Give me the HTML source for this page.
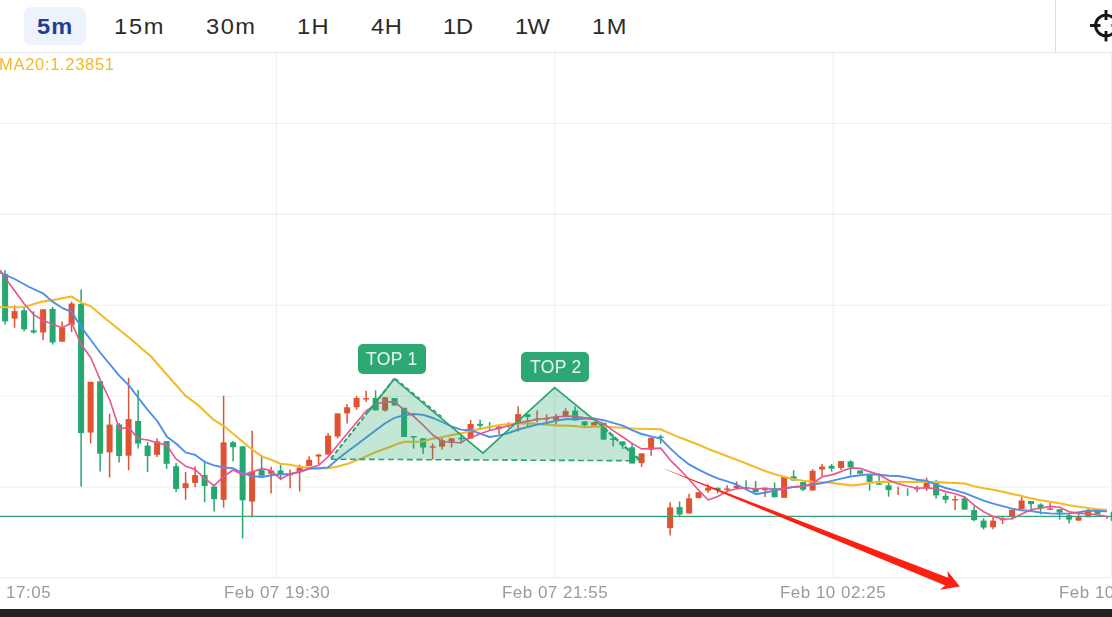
<!DOCTYPE html>
<html><head><meta charset="utf-8"><title>chart</title>
<style>
html,body{margin:0;padding:0;background:#fff;}
body{width:1112px;height:617px;overflow:hidden;position:relative;font-family:"Liberation Sans",sans-serif;}
#bar{position:absolute;left:0;top:0;width:1112px;height:52px;border-bottom:1.2px solid #e6e6e6;background:#fff;}
.pill{position:absolute;left:24px;top:7px;width:62px;height:38px;border-radius:7px;background:#eef2fc;}
.sel{position:absolute;left:37.05px;top:13.6px;font-size:21.5px;line-height:26px;font-weight:bold;color:#1f3f94;letter-spacing:1.04px;white-space:nowrap;transform:scaleX(1.1);transform-origin:0 0;}
.tab{position:absolute;top:13.6px;font-size:21.5px;line-height:26px;color:#2b2b2b;white-space:nowrap;transform:scaleX(1.1);transform-origin:0 0;}
.vdiv{position:absolute;left:1055px;top:0;width:1.2px;height:52px;background:#dcdcdc;}
.ma{will-change:transform;position:absolute;left:-1px;top:54px;font-size:16.5px;line-height:20px;color:#f1b92d;letter-spacing:0.7px;white-space:nowrap;}
.xl{will-change:transform;position:absolute;top:583px;width:200px;margin-left:-100px;text-align:center;font-size:17px;line-height:20px;color:#9a9a9a;letter-spacing:0.5px;white-space:nowrap;}
.tag{will-change:transform;position:absolute;width:67.6px;height:30px;border-radius:5px;background:#2ea873;color:#eaf6f0;font-size:17.5px;line-height:30px;text-align:center;white-space:nowrap;letter-spacing:0.3px;}
#foot{position:absolute;left:0;top:608.8px;width:1112px;height:9px;background:#222;}
svg{position:absolute;left:0;top:0;}
</style></head><body>
<svg width="1112" height="617" viewBox="0 0 1112 617">
<line x1="276.5" y1="53" x2="276.5" y2="577.5" stroke="#eeeeee" stroke-width="1.1"/>
<line x1="554.8" y1="53" x2="554.8" y2="577.5" stroke="#eeeeee" stroke-width="1.1"/>
<line x1="833.2" y1="53" x2="833.2" y2="577.5" stroke="#eeeeee" stroke-width="1.1"/>
<line x1="1111.4" y1="53" x2="1111.4" y2="577.5" stroke="#eeeeee" stroke-width="1.1"/>
<line x1="0" y1="123.5" x2="1110" y2="123.5" stroke="#eeeeee" stroke-width="1.1"/>
<line x1="0" y1="214.4" x2="1110" y2="214.4" stroke="#eeeeee" stroke-width="1.1"/>
<line x1="0" y1="305.3" x2="1110" y2="305.3" stroke="#eeeeee" stroke-width="1.1"/>
<line x1="0" y1="396.2" x2="1110" y2="396.2" stroke="#eeeeee" stroke-width="1.1"/>
<line x1="0" y1="487.0" x2="1110" y2="487.0" stroke="#eeeeee" stroke-width="1.1"/>
<line x1="0" y1="577.6" x2="1110" y2="577.6" stroke="#eeeeee" stroke-width="1.1"/>
<line x1="5.1" y1="270.2" x2="5.1" y2="324.6" stroke="#24a86e" stroke-width="1.5"/>
<rect x="2.1" y="273.9" width="6" height="47.4" fill="#24a86e"/>
<line x1="14.6" y1="305.5" x2="14.6" y2="327.8" stroke="#de5432" stroke-width="1.5"/>
<rect x="11.6" y="311.1" width="6" height="7.5" fill="#de5432"/>
<line x1="24.1" y1="307.0" x2="24.1" y2="331.5" stroke="#24a86e" stroke-width="1.5"/>
<rect x="21.1" y="310.3" width="6" height="19.0" fill="#24a86e"/>
<line x1="33.6" y1="311.3" x2="33.6" y2="333.7" stroke="#24a86e" stroke-width="1.5"/>
<rect x="30.6" y="330.3" width="6" height="2.2" fill="#24a86e"/>
<line x1="43.1" y1="309.3" x2="43.1" y2="340.2" stroke="#de5432" stroke-width="1.5"/>
<rect x="40.1" y="309.3" width="6" height="23.2" fill="#de5432"/>
<line x1="52.6" y1="307.0" x2="52.6" y2="344.6" stroke="#24a86e" stroke-width="1.5"/>
<rect x="49.6" y="308.9" width="6" height="33.5" fill="#24a86e"/>
<line x1="62.1" y1="321.6" x2="62.1" y2="341.7" stroke="#de5432" stroke-width="1.5"/>
<rect x="59.1" y="327.4" width="6" height="14.3" fill="#de5432"/>
<line x1="71.6" y1="301.6" x2="71.6" y2="332.2" stroke="#de5432" stroke-width="1.5"/>
<rect x="68.6" y="303.5" width="6" height="21.4" fill="#de5432"/>
<line x1="81.1" y1="289.6" x2="81.1" y2="486.5" stroke="#24a86e" stroke-width="1.5"/>
<rect x="78.1" y="303.8" width="6" height="129.3" fill="#24a86e"/>
<line x1="90.6" y1="381.8" x2="90.6" y2="443.5" stroke="#de5432" stroke-width="1.5"/>
<rect x="87.6" y="381.8" width="6" height="50.8" fill="#de5432"/>
<line x1="100.1" y1="381.3" x2="100.1" y2="471.5" stroke="#24a86e" stroke-width="1.5"/>
<rect x="97.1" y="381.3" width="6" height="72.4" fill="#24a86e"/>
<line x1="109.6" y1="413.7" x2="109.6" y2="477.5" stroke="#de5432" stroke-width="1.5"/>
<rect x="106.6" y="424.6" width="6" height="27.8" fill="#de5432"/>
<line x1="119.1" y1="423.0" x2="119.1" y2="462.5" stroke="#24a86e" stroke-width="1.5"/>
<rect x="116.1" y="424.4" width="6" height="31.6" fill="#24a86e"/>
<line x1="128.6" y1="377.8" x2="128.6" y2="470.2" stroke="#de5432" stroke-width="1.5"/>
<rect x="125.6" y="419.1" width="6" height="36.6" fill="#de5432"/>
<line x1="138.1" y1="389.9" x2="138.1" y2="448.4" stroke="#24a86e" stroke-width="1.5"/>
<rect x="135.1" y="421.0" width="6" height="22.5" fill="#24a86e"/>
<line x1="147.6" y1="441.9" x2="147.6" y2="471.9" stroke="#24a86e" stroke-width="1.5"/>
<rect x="144.6" y="445.6" width="6" height="10.4" fill="#24a86e"/>
<line x1="157.1" y1="438.2" x2="157.1" y2="457.0" stroke="#de5432" stroke-width="1.5"/>
<rect x="154.1" y="441.4" width="6" height="13.4" fill="#de5432"/>
<line x1="166.6" y1="441.1" x2="166.6" y2="469.0" stroke="#24a86e" stroke-width="1.5"/>
<rect x="163.6" y="441.1" width="6" height="22.7" fill="#24a86e"/>
<line x1="176.1" y1="463.0" x2="176.1" y2="492.1" stroke="#24a86e" stroke-width="1.5"/>
<rect x="173.1" y="466.2" width="6" height="22.7" fill="#24a86e"/>
<line x1="185.6" y1="471.9" x2="185.6" y2="499.7" stroke="#de5432" stroke-width="1.5"/>
<rect x="182.6" y="483.2" width="6" height="4.9" fill="#de5432"/>
<line x1="195.1" y1="466.2" x2="195.1" y2="487.3" stroke="#de5432" stroke-width="1.5"/>
<rect x="192.1" y="475.1" width="6" height="7.8" fill="#de5432"/>
<line x1="204.6" y1="461.3" x2="204.6" y2="502.3" stroke="#24a86e" stroke-width="1.5"/>
<rect x="201.6" y="475.1" width="6" height="10.9" fill="#24a86e"/>
<line x1="214.1" y1="484.8" x2="214.1" y2="511.6" stroke="#24a86e" stroke-width="1.5"/>
<rect x="211.1" y="486.5" width="6" height="12.6" fill="#24a86e"/>
<line x1="223.6" y1="395.7" x2="223.6" y2="507.7" stroke="#de5432" stroke-width="1.5"/>
<rect x="220.6" y="442.4" width="6" height="57.4" fill="#de5432"/>
<line x1="233.1" y1="441.0" x2="233.1" y2="461.6" stroke="#24a86e" stroke-width="1.5"/>
<rect x="230.1" y="442.2" width="6" height="5.0" fill="#24a86e"/>
<line x1="242.6" y1="446.3" x2="242.6" y2="538.5" stroke="#24a86e" stroke-width="1.5"/>
<rect x="239.6" y="446.3" width="6" height="54.0" fill="#24a86e"/>
<line x1="252.1" y1="430.8" x2="252.1" y2="517.5" stroke="#de5432" stroke-width="1.5"/>
<rect x="249.1" y="471.6" width="6" height="30.0" fill="#de5432"/>
<line x1="261.6" y1="455.2" x2="261.6" y2="475.7" stroke="#24a86e" stroke-width="1.5"/>
<rect x="258.6" y="470.0" width="6" height="5.7" fill="#24a86e"/>
<line x1="271.1" y1="466.7" x2="271.1" y2="493.5" stroke="#de5432" stroke-width="1.5"/>
<rect x="268.1" y="470.5" width="6" height="3.2" fill="#de5432"/>
<line x1="280.6" y1="464.6" x2="280.6" y2="480.2" stroke="#24a86e" stroke-width="1.5"/>
<rect x="277.6" y="470.5" width="6" height="3.9" fill="#24a86e"/>
<line x1="290.1" y1="469.5" x2="290.1" y2="488.3" stroke="#de5432" stroke-width="1.5"/>
<rect x="287.1" y="473.2" width="6" height="2.1" fill="#de5432"/>
<line x1="299.6" y1="464.6" x2="299.6" y2="491.5" stroke="#de5432" stroke-width="1.5"/>
<rect x="296.6" y="467.6" width="6" height="4.0" fill="#de5432"/>
<line x1="309.1" y1="456.2" x2="309.1" y2="465.9" stroke="#de5432" stroke-width="1.5"/>
<rect x="306.1" y="459.8" width="6" height="6.1" fill="#de5432"/>
<line x1="318.6" y1="453.8" x2="318.6" y2="464.3" stroke="#de5432" stroke-width="1.5"/>
<rect x="315.6" y="454.6" width="6" height="1.9" fill="#de5432"/>
<line x1="328.1" y1="432.9" x2="328.1" y2="454.6" stroke="#de5432" stroke-width="1.5"/>
<rect x="325.1" y="435.6" width="6" height="19.0" fill="#de5432"/>
<line x1="337.6" y1="413.4" x2="337.6" y2="438.4" stroke="#de5432" stroke-width="1.5"/>
<rect x="334.6" y="413.4" width="6" height="23.1" fill="#de5432"/>
<line x1="347.1" y1="404.0" x2="347.1" y2="423.5" stroke="#de5432" stroke-width="1.5"/>
<rect x="344.1" y="407.3" width="6" height="6.1" fill="#de5432"/>
<line x1="356.6" y1="395.9" x2="356.6" y2="409.7" stroke="#de5432" stroke-width="1.5"/>
<rect x="353.6" y="397.9" width="6" height="9.4" fill="#de5432"/>
<line x1="366.1" y1="390.7" x2="366.1" y2="402.1" stroke="#de5432" stroke-width="1.5"/>
<rect x="363.1" y="398.1" width="6" height="1.4" fill="#de5432"/>
<line x1="375.6" y1="390.3" x2="375.6" y2="410.4" stroke="#24a86e" stroke-width="1.5"/>
<rect x="372.6" y="398.0" width="6" height="12.4" fill="#24a86e"/>
<line x1="385.1" y1="397.3" x2="385.1" y2="411.8" stroke="#de5432" stroke-width="1.5"/>
<rect x="382.1" y="397.3" width="6" height="13.2" fill="#de5432"/>
<line x1="394.6" y1="398.0" x2="394.6" y2="405.5" stroke="#24a86e" stroke-width="1.5"/>
<rect x="391.6" y="398.0" width="6" height="7.5" fill="#24a86e"/>
<line x1="404.1" y1="407.8" x2="404.1" y2="437.0" stroke="#24a86e" stroke-width="1.5"/>
<rect x="401.1" y="407.8" width="6" height="29.2" fill="#24a86e"/>
<line x1="413.6" y1="436.2" x2="413.6" y2="448.7" stroke="#24a86e" stroke-width="1.5"/>
<rect x="410.6" y="436.0" width="6" height="1.4" fill="#24a86e"/>
<line x1="423.1" y1="438.3" x2="423.1" y2="454.0" stroke="#24a86e" stroke-width="1.5"/>
<rect x="420.1" y="438.3" width="6" height="9.2" fill="#24a86e"/>
<line x1="432.6" y1="443.5" x2="432.6" y2="459.4" stroke="#de5432" stroke-width="1.5"/>
<rect x="429.6" y="446.3" width="6" height="1.4" fill="#de5432"/>
<line x1="442.1" y1="436.7" x2="442.1" y2="449.6" stroke="#de5432" stroke-width="1.5"/>
<rect x="439.1" y="440.2" width="6" height="6.5" fill="#de5432"/>
<line x1="451.6" y1="438.3" x2="451.6" y2="447.5" stroke="#de5432" stroke-width="1.5"/>
<rect x="448.6" y="438.3" width="6" height="4.4" fill="#de5432"/>
<line x1="461.1" y1="435.4" x2="461.1" y2="443.5" stroke="#24a86e" stroke-width="1.5"/>
<rect x="458.1" y="437.9" width="6" height="1.4" fill="#24a86e"/>
<line x1="470.6" y1="420.0" x2="470.6" y2="438.6" stroke="#de5432" stroke-width="1.5"/>
<rect x="467.6" y="424.0" width="6" height="14.6" fill="#de5432"/>
<line x1="480.1" y1="419.7" x2="480.1" y2="428.6" stroke="#24a86e" stroke-width="1.5"/>
<rect x="477.1" y="423.8" width="6" height="2.0" fill="#24a86e"/>
<line x1="489.6" y1="422.1" x2="489.6" y2="430.5" stroke="#24a86e" stroke-width="1.5"/>
<rect x="486.6" y="426.3" width="6" height="1.4" fill="#24a86e"/>
<line x1="499.1" y1="426.5" x2="499.1" y2="434.6" stroke="#de5432" stroke-width="1.5"/>
<rect x="496.1" y="426.5" width="6" height="2.4" fill="#de5432"/>
<line x1="508.6" y1="422.1" x2="508.6" y2="428.1" stroke="#de5432" stroke-width="1.5"/>
<rect x="505.6" y="424.1" width="6" height="1.4" fill="#de5432"/>
<line x1="518.1" y1="406.2" x2="518.1" y2="431.4" stroke="#de5432" stroke-width="1.5"/>
<rect x="515.1" y="414.1" width="6" height="7.7" fill="#de5432"/>
<line x1="527.6" y1="414.2" x2="527.6" y2="426.6" stroke="#24a86e" stroke-width="1.5"/>
<rect x="524.6" y="414.2" width="6" height="2.7" fill="#24a86e"/>
<line x1="537.1" y1="410.6" x2="537.1" y2="422.3" stroke="#de5432" stroke-width="1.5"/>
<rect x="534.1" y="418.5" width="6" height="1.4" fill="#de5432"/>
<line x1="546.6" y1="414.3" x2="546.6" y2="422.4" stroke="#de5432" stroke-width="1.5"/>
<rect x="543.6" y="418.1" width="6" height="1.4" fill="#de5432"/>
<line x1="556.1" y1="414.0" x2="556.1" y2="424.6" stroke="#de5432" stroke-width="1.5"/>
<rect x="553.1" y="416.7" width="6" height="3.3" fill="#de5432"/>
<line x1="565.6" y1="408.2" x2="565.6" y2="416.3" stroke="#de5432" stroke-width="1.5"/>
<rect x="562.6" y="411.1" width="6" height="5.2" fill="#de5432"/>
<line x1="575.1" y1="406.6" x2="575.1" y2="420.4" stroke="#24a86e" stroke-width="1.5"/>
<rect x="572.1" y="410.6" width="6" height="9.8" fill="#24a86e"/>
<line x1="584.6" y1="421.4" x2="584.6" y2="426.8" stroke="#24a86e" stroke-width="1.5"/>
<rect x="581.6" y="421.4" width="6" height="3.9" fill="#24a86e"/>
<line x1="594.1" y1="422.1" x2="594.1" y2="425.5" stroke="#de5432" stroke-width="1.5"/>
<rect x="591.1" y="422.1" width="6" height="3.4" fill="#de5432"/>
<line x1="603.6" y1="422.8" x2="603.6" y2="439.6" stroke="#24a86e" stroke-width="1.5"/>
<rect x="600.6" y="422.8" width="6" height="16.8" fill="#24a86e"/>
<line x1="613.1" y1="435.0" x2="613.1" y2="446.5" stroke="#24a86e" stroke-width="1.5"/>
<rect x="610.1" y="438.5" width="6" height="1.4" fill="#24a86e"/>
<line x1="622.6" y1="441.5" x2="622.6" y2="448.9" stroke="#24a86e" stroke-width="1.5"/>
<rect x="619.6" y="441.5" width="6" height="3.8" fill="#24a86e"/>
<line x1="632.1" y1="443.7" x2="632.1" y2="463.5" stroke="#24a86e" stroke-width="1.5"/>
<rect x="629.1" y="447.3" width="6" height="16.2" fill="#24a86e"/>
<line x1="641.6" y1="453.4" x2="641.6" y2="467.0" stroke="#de5432" stroke-width="1.5"/>
<rect x="638.6" y="453.4" width="6" height="9.8" fill="#de5432"/>
<line x1="651.1" y1="437.7" x2="651.1" y2="455.7" stroke="#de5432" stroke-width="1.5"/>
<rect x="648.1" y="437.7" width="6" height="12.0" fill="#de5432"/>
<line x1="660.6" y1="434.7" x2="660.6" y2="443.8" stroke="#24a86e" stroke-width="1.5"/>
<rect x="657.6" y="436.5" width="6" height="1.4" fill="#24a86e"/>
<line x1="670.1" y1="502.2" x2="670.1" y2="535.6" stroke="#de5432" stroke-width="1.5"/>
<rect x="667.1" y="507.4" width="6" height="20.7" fill="#de5432"/>
<line x1="679.6" y1="501.5" x2="679.6" y2="517.3" stroke="#24a86e" stroke-width="1.5"/>
<rect x="676.6" y="507.1" width="6" height="7.4" fill="#24a86e"/>
<line x1="689.1" y1="493.7" x2="689.1" y2="513.5" stroke="#de5432" stroke-width="1.5"/>
<rect x="686.1" y="498.3" width="6" height="15.2" fill="#de5432"/>
<line x1="698.6" y1="492.2" x2="698.6" y2="498.1" stroke="#de5432" stroke-width="1.5"/>
<rect x="695.6" y="492.2" width="6" height="5.9" fill="#de5432"/>
<line x1="708.1" y1="484.3" x2="708.1" y2="493.0" stroke="#de5432" stroke-width="1.5"/>
<rect x="705.1" y="487.7" width="6" height="2.9" fill="#de5432"/>
<line x1="717.6" y1="487.7" x2="717.6" y2="493.4" stroke="#24a86e" stroke-width="1.5"/>
<rect x="714.6" y="487.7" width="6" height="2.5" fill="#24a86e"/>
<line x1="727.1" y1="485.3" x2="727.1" y2="492.2" stroke="#de5432" stroke-width="1.5"/>
<rect x="724.1" y="488.4" width="6" height="1.4" fill="#de5432"/>
<line x1="736.6" y1="481.4" x2="736.6" y2="488.0" stroke="#de5432" stroke-width="1.5"/>
<rect x="733.6" y="485.7" width="6" height="2.3" fill="#de5432"/>
<line x1="746.1" y1="480.3" x2="746.1" y2="489.0" stroke="#24a86e" stroke-width="1.5"/>
<rect x="743.1" y="487.0" width="6" height="2.0" fill="#24a86e"/>
<line x1="755.6" y1="481.0" x2="755.6" y2="492.2" stroke="#24a86e" stroke-width="1.5"/>
<rect x="752.6" y="489.0" width="6" height="3.2" fill="#24a86e"/>
<line x1="765.1" y1="488.1" x2="765.1" y2="497.0" stroke="#de5432" stroke-width="1.5"/>
<rect x="762.1" y="488.1" width="6" height="2.1" fill="#de5432"/>
<line x1="774.6" y1="482.4" x2="774.6" y2="497.3" stroke="#24a86e" stroke-width="1.5"/>
<rect x="771.6" y="488.1" width="6" height="9.2" fill="#24a86e"/>
<line x1="784.1" y1="476.7" x2="784.1" y2="497.8" stroke="#de5432" stroke-width="1.5"/>
<rect x="781.1" y="476.7" width="6" height="21.1" fill="#de5432"/>
<line x1="793.6" y1="470.3" x2="793.6" y2="480.5" stroke="#24a86e" stroke-width="1.5"/>
<rect x="790.6" y="476.3" width="6" height="4.2" fill="#24a86e"/>
<line x1="803.1" y1="482.1" x2="803.1" y2="491.3" stroke="#24a86e" stroke-width="1.5"/>
<rect x="800.1" y="482.1" width="6" height="7.6" fill="#24a86e"/>
<line x1="812.6" y1="469.1" x2="812.6" y2="490.5" stroke="#de5432" stroke-width="1.5"/>
<rect x="809.6" y="470.8" width="6" height="19.7" fill="#de5432"/>
<line x1="822.1" y1="464.1" x2="822.1" y2="476.2" stroke="#de5432" stroke-width="1.5"/>
<rect x="819.1" y="466.6" width="6" height="2.9" fill="#de5432"/>
<line x1="831.6" y1="464.0" x2="831.6" y2="471.6" stroke="#24a86e" stroke-width="1.5"/>
<rect x="828.6" y="465.8" width="6" height="2.8" fill="#24a86e"/>
<line x1="841.1" y1="461.1" x2="841.1" y2="470.0" stroke="#de5432" stroke-width="1.5"/>
<rect x="838.1" y="461.1" width="6" height="6.8" fill="#de5432"/>
<line x1="850.6" y1="460.3" x2="850.6" y2="475.3" stroke="#24a86e" stroke-width="1.5"/>
<rect x="847.6" y="461.4" width="6" height="5.8" fill="#24a86e"/>
<line x1="860.1" y1="470.5" x2="860.1" y2="473.7" stroke="#24a86e" stroke-width="1.5"/>
<rect x="857.1" y="470.5" width="6" height="3.2" fill="#24a86e"/>
<line x1="869.6" y1="474.8" x2="869.6" y2="490.6" stroke="#24a86e" stroke-width="1.5"/>
<rect x="866.6" y="474.8" width="6" height="7.0" fill="#24a86e"/>
<line x1="879.1" y1="473.2" x2="879.1" y2="484.6" stroke="#24a86e" stroke-width="1.5"/>
<rect x="876.1" y="483.4" width="6" height="1.4" fill="#24a86e"/>
<line x1="888.6" y1="482.5" x2="888.6" y2="496.7" stroke="#24a86e" stroke-width="1.5"/>
<rect x="885.6" y="485.4" width="6" height="4.8" fill="#24a86e"/>
<line x1="898.1" y1="486.7" x2="898.1" y2="495.1" stroke="#de5432" stroke-width="1.5"/>
<line x1="907.6" y1="488.3" x2="907.6" y2="495.9" stroke="#24a86e" stroke-width="1.5"/>
<line x1="917.1" y1="485.7" x2="917.1" y2="491.9" stroke="#de5432" stroke-width="1.5"/>
<rect x="914.1" y="487.8" width="6" height="1.6" fill="#de5432"/>
<line x1="926.6" y1="477.6" x2="926.6" y2="491.1" stroke="#de5432" stroke-width="1.5"/>
<rect x="923.6" y="482.5" width="6" height="5.8" fill="#de5432"/>
<line x1="936.1" y1="479.7" x2="936.1" y2="498.7" stroke="#24a86e" stroke-width="1.5"/>
<rect x="933.1" y="482.5" width="6" height="12.9" fill="#24a86e"/>
<line x1="945.6" y1="493.3" x2="945.6" y2="503.3" stroke="#24a86e" stroke-width="1.5"/>
<rect x="942.6" y="495.9" width="6" height="3.9" fill="#24a86e"/>
<line x1="955.1" y1="495.6" x2="955.1" y2="509.9" stroke="#de5432" stroke-width="1.5"/>
<rect x="952.1" y="499.1" width="6" height="1.4" fill="#de5432"/>
<line x1="964.6" y1="496.1" x2="964.6" y2="509.6" stroke="#24a86e" stroke-width="1.5"/>
<rect x="961.6" y="498.4" width="6" height="11.2" fill="#24a86e"/>
<line x1="974.1" y1="506.2" x2="974.1" y2="521.2" stroke="#24a86e" stroke-width="1.5"/>
<rect x="971.1" y="510.1" width="6" height="10.0" fill="#24a86e"/>
<line x1="983.6" y1="518.3" x2="983.6" y2="529.4" stroke="#24a86e" stroke-width="1.5"/>
<rect x="980.6" y="520.6" width="6" height="7.0" fill="#24a86e"/>
<line x1="993.1" y1="516.9" x2="993.1" y2="529.3" stroke="#de5432" stroke-width="1.5"/>
<rect x="990.1" y="520.6" width="6" height="6.7" fill="#de5432"/>
<line x1="1002.6" y1="516.9" x2="1002.6" y2="524.2" stroke="#de5432" stroke-width="1.5"/>
<rect x="999.6" y="518.9" width="6" height="1.4" fill="#de5432"/>
<line x1="1012.1" y1="509.8" x2="1012.1" y2="519.6" stroke="#de5432" stroke-width="1.5"/>
<rect x="1009.1" y="509.8" width="6" height="7.1" fill="#de5432"/>
<line x1="1021.6" y1="497.1" x2="1021.6" y2="509.2" stroke="#de5432" stroke-width="1.5"/>
<rect x="1018.6" y="500.5" width="6" height="8.7" fill="#de5432"/>
<line x1="1031.1" y1="501.0" x2="1031.1" y2="509.8" stroke="#24a86e" stroke-width="1.5"/>
<rect x="1028.1" y="501.0" width="6" height="3.1" fill="#24a86e"/>
<line x1="1040.6" y1="503.3" x2="1040.6" y2="514.4" stroke="#24a86e" stroke-width="1.5"/>
<rect x="1037.6" y="504.5" width="6" height="3.4" fill="#24a86e"/>
<line x1="1050.1" y1="503.0" x2="1050.1" y2="509.7" stroke="#de5432" stroke-width="1.5"/>
<rect x="1047.1" y="508.5" width="6" height="1.4" fill="#de5432"/>
<line x1="1059.6" y1="509.2" x2="1059.6" y2="519.6" stroke="#24a86e" stroke-width="1.5"/>
<rect x="1056.6" y="509.2" width="6" height="3.4" fill="#24a86e"/>
<line x1="1069.1" y1="513.4" x2="1069.1" y2="523.4" stroke="#24a86e" stroke-width="1.5"/>
<rect x="1066.1" y="515.4" width="6" height="4.2" fill="#24a86e"/>
<line x1="1078.6" y1="514.1" x2="1078.6" y2="520.6" stroke="#de5432" stroke-width="1.5"/>
<rect x="1075.6" y="517.2" width="6" height="3.4" fill="#de5432"/>
<line x1="1088.1" y1="508.3" x2="1088.1" y2="517.2" stroke="#de5432" stroke-width="1.5"/>
<rect x="1085.1" y="510.7" width="6" height="6.5" fill="#de5432"/>
<line x1="1097.6" y1="509.8" x2="1097.6" y2="513.8" stroke="#24a86e" stroke-width="1.5"/>
<rect x="1094.6" y="509.8" width="6" height="4.0" fill="#24a86e"/>
<rect x="1106.3" y="516.6" width="1.7" height="2.2" fill="#e2557a"/>
<rect x="1110.7" y="511.8" width="3" height="9.2" rx="1" fill="#24a86e"/>
<line x1="0" y1="516.3" x2="1112" y2="516.3" stroke="#35a478" stroke-width="1.3"/>
<polyline points="0,307.3 24,307 42.3,301.6 52.5,300.1 71.5,296.5 81.2,302.7 90.4,306 105,318.3 119.6,330 131.3,339.5 142.2,349 150.8,356.2 167,374.8 184.8,395.1 197.8,404.8 214,420.2 223.7,426 233.1,433.8 240.3,439.7 252,449.5 261.8,456.4 271.2,459.7 280.6,463.7 290,464.8 299.6,466.8 309,467.6 318.6,468.4 328,468.2 337.5,466.6 348,463.8 361,458.6 374,452.8 387,448 400,442.9 404.2,441.9 423.1,441.5 432.7,438.6 442.1,437 451.5,435.1 461,433.4 470.6,430.8 480.2,428.9 489.7,427 499.3,425 508.7,424 518.1,423.4 527.8,423.4 537.2,423.9 546.6,424.6 556.2,425.4 575,426 584.6,427.2 594,426.8 603.6,426.6 613.1,427.3 622.7,427.8 632.1,428.5 641.5,428.8 651.1,429 660.6,429.2 670,433.4 679.6,437.6 689,441.1 698.6,444.8 708.2,448.9 717.6,452.5 727.2,456.2 736.6,459.7 746.2,463.5 755.7,467.2 765.2,471.1 774.6,474.3 784.2,476.7 793.6,479.2 803.2,480.8 812.6,481.8 822.2,482.3 831.7,482.9 850.7,485.4 860.2,484.6 869.6,483 879.2,481.8 898.2,482.1 917.1,481.8 936.1,482.1 955.2,483 964.8,483.6 974.2,486.2 983.7,488.2 993.2,489.7 1002.6,491.7 1012.2,494 1021.7,495.9 1031.3,498.4 1040.7,500.2 1050.1,501.8 1059.6,503.3 1069.2,505.2 1078.6,506.7 1088,508 1097.6,509.2 1107,509.8" fill="none" stroke="#f3ba2c" stroke-width="2.1" stroke-linejoin="round"/>
<polyline points="0,272.4 14.6,279 29.2,287 43,293.3 52.5,301.6 62,307.8 71.5,311.8 81.2,327.1 90.8,340 100.5,353 119.2,375.7 128.9,385.4 138.1,397.5 147.5,409.7 157.2,421 167,436.7 176,443.5 185.6,452.4 195,454.8 204.6,461.8 214,465.4 223.7,467.5 233.1,468.3 242.7,473.2 252,476 261.8,477 271.2,475.3 280.6,474.4 290,474 299.6,472.1 309,468.8 318.6,468.3 328,467.4 337.6,459.3 347.1,451.8 356.6,444.7 366.2,437.6 375.8,430.2 385.2,423.2 394.6,417.8 404.2,415.1 413.7,414 423.3,414.9 432.9,418 442.3,422 451.5,426.5 461,429.6 470.6,430.2 480.2,433.6 489.7,437 499.3,435.4 508.7,433 518.1,429.5 527.8,427 537.2,424.6 546.6,423 556.2,420.6 565.5,419.2 575,419.2 584.6,418.5 594,418.4 603.6,420.2 613.1,422.9 622.7,425.7 632.1,430.2 641.5,434 651.1,436.4 660.6,438.7 670,448.1 679.6,457.1 689,464.4 698.6,469.7 708.2,474.4 717.6,478.4 727.2,481.4 736.6,484.5 746.2,489.5 755.7,494.2 765.2,492.5 774.6,490.5 784.2,488.6 793.6,487 803.2,486 812.6,484.8 822.2,483.1 831.7,480.8 841.1,478.6 850.7,476.5 860.2,475.3 869.6,474.4 879.2,474.8 888.8,475.7 898.2,476 907.6,477.6 917.1,479.7 926.5,480.8 936.1,484.6 945.7,488 955.2,490.4 964.8,493.2 974.2,496.9 983.7,500.6 993.2,503.6 1002.6,506.1 1012.2,508.7 1021.7,510.3 1031.3,511 1040.7,512.6 1050.1,513.4 1059.6,513.8 1069.2,513.4 1078.6,512.3 1088,510.7 1097.6,510.7 1107,511.4" fill="none" stroke="#4d8fea" stroke-width="1.9" stroke-linejoin="round"/>
<polyline points="0,270.2 5.1,277.6 14.6,290.8 24.1,303.8 33.8,314.6 43,320.5 52.8,324.2 62,327.8 71.8,323 81.2,344.6 90.8,357.8 100.5,380.5 109.8,400 119.2,428.8 128.7,427.4 138.1,438.7 147.8,440 157.2,442.7 166.6,445.1 176,458.9 185.6,466.2 195,469.4 204.6,478.3 214,485.6 223.7,476.6 233,470 242.7,474.8 252,472.1 261.8,468.4 271.2,470.8 280.6,478.9 290,474 299.6,471.6 309,468.2 318.6,465.3 328,456.9 337.6,445.3 347.1,433.8 356.6,422.2 366.2,411 375.8,404.2 385.2,401.7 394.6,401.9 404.2,409.9 413.7,416.3 423.3,425.3 432.9,435 442.1,441.5 451.5,442.2 461,442.7 465.9,439.4 470.6,437.8 480.2,433.8 489.7,430.5 499.3,428.1 508.7,425.7 518.1,423 527.8,421.1 537.2,419.5 546.6,418.3 556.2,416.9 565.5,416.3 575,416.3 584.6,417.9 594,419.4 603.6,423.7 613.1,430.6 622.7,437 632.1,443.4 641.5,448.9 651,448.6 660.6,448.1 670,459.8 679.6,469.3 689,479.3 698.6,490.2 708.2,500 717.6,496.4 727.2,491.3 736.6,488.8 746.2,487.7 755.7,489 765.2,488.1 774.6,489.7 784.2,488.1 793.6,487 803.2,486.5 812.6,483.4 822.2,476.8 831.7,474.9 841.1,471.6 850.7,467.9 860.2,468.4 869.6,471.6 879.2,474.8 888.8,480.2 898.2,483.8 907.6,486.2 917.1,488.3 926.5,487.8 936.1,488.6 945.7,491.6 955.2,493.8 964.8,497.1 974.2,505.2 983.7,511.8 993.2,516.5 1002.6,519.1 1012.2,518.8 1021.7,514.1 1031.3,509.5 1040.7,508.3 1050.1,506.4 1059.6,507.2 1069.2,511.8 1078.6,513.4 1088,513.8 1097.6,514.9 1107,516.5" fill="none" stroke="#e8558f" stroke-width="1.65" stroke-linejoin="round"/>
<polygon points="330.9,458.7 394.2,378.9 482.9,453.2 554.6,387.5 603.7,427.7 640.8,461.0 629.4,460.7" fill="rgba(43,165,111,0.28)"/>
<line x1="330.9" y1="458.7" x2="394.2" y2="378.9" stroke="#2ba56f" stroke-width="2" stroke-dasharray="4.6 2.4"/>
<polyline points="368.7,411.5 394.2,378.9 482.9,453.2 554.6,387.5 603.7,427.7" fill="none" stroke="#2ba56f" stroke-width="1.7" stroke-linejoin="miter"/>
<line x1="395.4" y1="378.7" x2="444.5" y2="419.0" stroke="#2ba56f" stroke-width="1.5" stroke-dasharray="4 3"/>
<line x1="603.7" y1="427.7" x2="640.8" y2="461.0" stroke="#2ba56f" stroke-width="2.6" stroke-dasharray="5.5 1.6"/>
<line x1="330.9" y1="459.2" x2="629.4" y2="460.7" stroke="#2ba56f" stroke-width="1.6" stroke-dasharray="6 3.5"/>
<polygon points="665.1,468.9 948.2,577.8 947.4,571.1 959.9,586.5 939.8,589.7 945.3,585.6 665.0,469.3" fill="#ff1e12"/>
</svg>
<div id="bar">
<div class="pill"></div><span class="sel">5m</span>
<span class="tab" style="left:113.95px;letter-spacing:1.57px">15m</span><span class="tab" style="left:205.82px;letter-spacing:1.36px">30m</span><span class="tab" style="left:296.55px;letter-spacing:1.33px">1H</span><span class="tab" style="left:370.82px;letter-spacing:0.63px">4H</span><span class="tab" style="left:442.75px;letter-spacing:-0.03px">1D</span><span class="tab" style="left:515.15px;letter-spacing:-0.61px">1W</span><span class="tab" style="left:592.35px;letter-spacing:1.38px">1M</span>
<div class="vdiv"></div>
<svg width="1112" height="52" viewBox="0 0 1112 52">
<g stroke="#161616" stroke-width="2.9" fill="none">
<circle cx="1106" cy="25.5" r="10.4"/>
<line x1="1106" y1="10" x2="1106" y2="20"/>
<line x1="1106" y1="31" x2="1106" y2="41.4"/>
<line x1="1090" y1="25.5" x2="1100.5" y2="25.5"/>
<line x1="1111.5" y1="25.5" x2="1122" y2="25.5"/>
</g></svg>
</div>
<div class="ma">MA20:1.23851</div>
<div class="tag" style="left:357.8px;top:343.9px">TOP 1</div>
<div class="tag" style="left:520.7px;top:351.5px;line-height:31px;text-indent:2px">TOP 2</div>
<div class="xl" style="left:-1.8px">Feb 07 17:05</div>
<div class="xl" style="left:276.8px">Feb 07 19:30</div>
<div class="xl" style="left:555px">Feb 07 21:55</div>
<div class="xl" style="left:833.3px">Feb 10 02:25</div>
<div class="xl" style="left:1111.6px">Feb 10 04:50</div>
<div id="foot"></div>
</body></html>
